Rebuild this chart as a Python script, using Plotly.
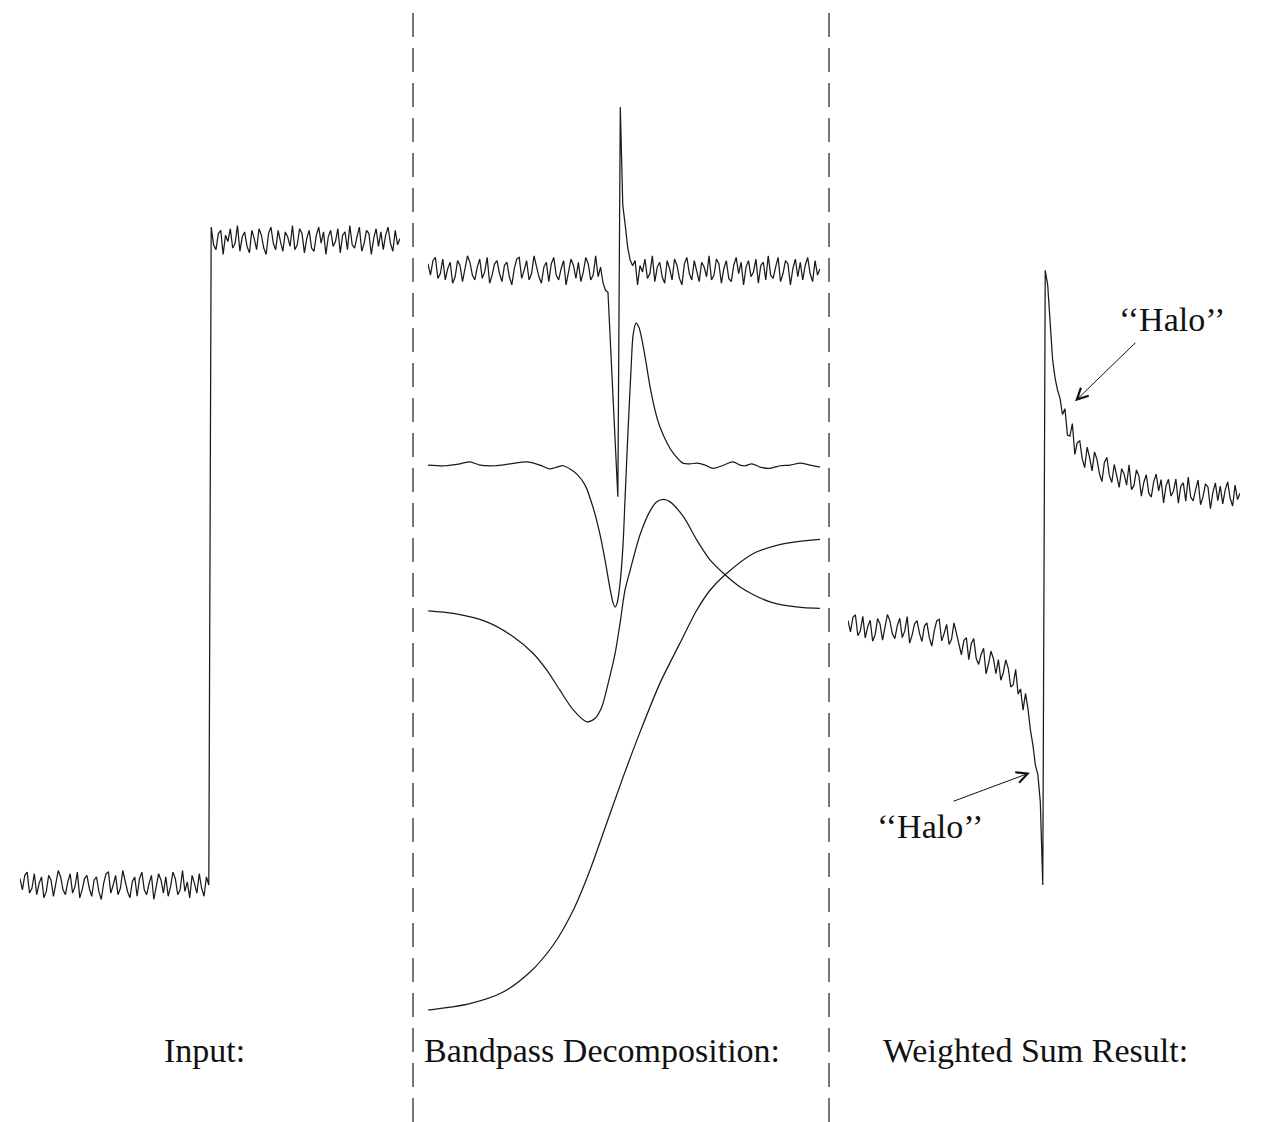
import plotly.graph_objects as go

W, H = 1267, 1122

# ---------------- data ----------------
# shared high-frequency noise, in noise steps
noise = [
    4, -3, 6, 8, -5, -2, 7, -6, 1, 5,
    -8, -4, 6, 3, -7, 2, 9, 5, -3, -6,
    2, 7, -5, -1, 8, -8, -3, 4, 6, -2,
    -7, 3, 5, -4, -9, 1, 7, 8, -5, 0,
    6, -6, -2, 9, 3, -4, -8, 2, 5, -7,
    4, 8, -3, -6, 1, 6, -9, -2, 7, 3,
    -5, 5, -7, -1, 8, 4, -6, -3, 9, -4,
    2, -8, 6, 1, -5, 7, -2, -7, 5, 0,
    8, -3, -6, 4, 6, -9, 3, -1, 7, -5,
    -2, 9, -7, 2, 5, -4, -8, 6, 1, -6,
    7, 3, -5, -9, 4, 8, -2, -6, 6, -1,
    -7, 5, 2, -4, 9, -6, -3, 7, 4, -8,
    1, 6, -5, -7, 3, 8, -2, 5, -9, 2,
    6, -4, -1, 7, -8, 3, 5, -6, 9, -3,
    -5, 2, 8, -7, -2, 6, 4, -9, 1, 7,
    -4, 5, -6, 3, 8, -2, -7, 6, -3, 1,
]
noise_scale = 0.0025

# input step
input_low = 0.0
input_high = 1.0
input_step_index = 80

# band 1 (finest): noisy baseline plus the edge response
band1_base = 0.953
band1_feature_idx = [72, 73, 74, 75, 76, 77, 78, 79, 80, 81, 82, 83]
band1_feature_val = [0.922, 0.919, 0.836, 0.749, 0.665, 0.602,
                     1.206, 1.054, 1.023, 0.988, 0.969, 0.960]

# band 2
band2_x = [0, 6.9, 13.0, 17.0, 21.1, 27.2, 33.3, 40.2, 45.4, 49.5, 52.3, 54.8,
           57.6, 60.4, 63.7, 66.9, 69.8, 71.8, 73.8, 75.1, 75.9, 76.7, 77.9,
           79.1, 79.9, 81.1, 82.4, 83.2, 84.4, 85.6, 86.8, 88.4, 90.1, 92.1,
           94.1, 97.0, 99.4, 103.4, 106.3, 109.1, 112.4, 115.6, 119.3, 123.7,
           126.6, 128.6, 131.4, 134.7, 138.7, 142.8, 146.9, 150.9, 155.0, 159.0]
band2_y = [0.651, 0.650, 0.653, 0.656, 0.651, 0.650, 0.653, 0.656, 0.651, 0.645,
           0.648, 0.650, 0.645, 0.637, 0.620, 0.586, 0.543, 0.504, 0.460, 0.437,
           0.431, 0.437, 0.468, 0.527, 0.597, 0.701, 0.803, 0.853, 0.871, 0.864,
           0.845, 0.811, 0.772, 0.736, 0.710, 0.685, 0.670, 0.654, 0.653, 0.654,
           0.651, 0.646, 0.650, 0.656, 0.651, 0.650, 0.653, 0.648, 0.646, 0.650,
           0.651, 0.654, 0.651, 0.648]

# band 3
band3_x = [0.1, 10.3, 23.8, 34.6, 42.7, 48.2, 53.5, 59.0, 64.4, 67.7, 70.5, 73.1,
           75.9, 77.9, 79.9, 82.0, 86.0, 90.1, 92.8, 95.5, 98.2, 103.6, 109.0,
           114.4, 120.5, 126.6, 132.0, 138.7, 145.5, 152.3, 159.0]
band3_y = [0.425, 0.421, 0.408, 0.385, 0.359, 0.333, 0.302, 0.271, 0.253, 0.258,
           0.276, 0.313, 0.359, 0.406, 0.457, 0.488, 0.543, 0.580, 0.594, 0.598,
           0.594, 0.571, 0.535, 0.504, 0.481, 0.462, 0.450, 0.439, 0.433, 0.430,
           0.429]

# band 4 (lowpass residual)
band4_x = [0.1, 17.0, 30.5, 41.4, 50.8, 58.9, 65.7, 72.5, 79.2, 86.0, 94.1,
           102.2, 109.0, 114.4, 120.5, 132.0, 145.5, 159.0]
band4_y = [-0.194, -0.184, -0.166, -0.135, -0.093, -0.039, 0.023, 0.096, 0.168,
           0.237, 0.313, 0.375, 0.426, 0.457, 0.481, 0.514, 0.530, 0.536]

# weighted-sum result: smooth trend (noise added on top except near the edge)
result_trend = [
    0.400, 0.400, 0.400, 0.399, 0.399, 0.399, 0.399, 0.398, 0.398, 0.398,
    0.398, 0.398, 0.398, 0.397, 0.397, 0.397, 0.397, 0.397, 0.397, 0.397,
    0.397, 0.396, 0.396, 0.396, 0.396, 0.395, 0.395, 0.395, 0.395, 0.395,
    0.395, 0.394, 0.394, 0.393, 0.393, 0.392, 0.392, 0.392, 0.391, 0.390,
    0.389, 0.388, 0.386, 0.384, 0.382, 0.380, 0.377, 0.374, 0.371, 0.367,
    0.364, 0.362, 0.359, 0.357, 0.355, 0.352, 0.350, 0.348, 0.345, 0.343,
    0.340, 0.337, 0.335, 0.332, 0.329, 0.326, 0.322, 0.318, 0.312, 0.306,
    0.299, 0.291, 0.282, 0.271, 0.240, 0.217, 0.186, 0.171, 0.129, 0.000,
    0.953, 0.930, 0.873, 0.814, 0.786, 0.767, 0.747, 0.732, 0.721, 0.710,
    0.701, 0.693, 0.685, 0.681, 0.676, 0.671, 0.667, 0.664, 0.660, 0.657,
    0.654, 0.652, 0.650, 0.648, 0.645, 0.643, 0.640, 0.639, 0.637, 0.636,
    0.634, 0.633, 0.632, 0.630, 0.629, 0.628, 0.627, 0.626, 0.624, 0.623,
    0.622, 0.621, 0.620, 0.619, 0.618, 0.617, 0.616, 0.616, 0.615, 0.614,
    0.614, 0.613, 0.613, 0.612, 0.612, 0.611, 0.611, 0.610, 0.610, 0.609,
    0.608, 0.608, 0.608, 0.607, 0.607, 0.607, 0.607, 0.606, 0.606, 0.606,
    0.606, 0.606, 0.606, 0.605, 0.605, 0.605, 0.605, 0.605, 0.605, 0.605,
]
result_clean_idx = list(range(74, 86))

panel_labels = ["Input:", "Bandpass Decomposition:", "Weighted Sum Result:"]
halo_text = "\u2018\u2018Halo\u2019\u2019"

# ---------------- build series ----------------
n = len(noise)
idx = list(range(n))
input_y = [(input_low if i < input_step_index else input_high) + noise[i] * noise_scale
           for i in idx]
band1_y = [band1_base + noise[i] * noise_scale for i in idx]
for i, v in zip(band1_feature_idx, band1_feature_val):
    band1_y[i] = v
result_y = [result_trend[i] + (0 if i in result_clean_idx else noise[i] * noise_scale)
            for i in idx]

LINE = dict(color="#1a1a1a", width=1.25)
fig = go.Figure()
fig.add_trace(go.Scatter(x=idx, y=input_y, mode="lines", line=LINE, xaxis="x", yaxis="y"))
fig.add_trace(go.Scatter(x=idx, y=band1_y, mode="lines", line=LINE, xaxis="x2", yaxis="y"))
for bx, by in [(band2_x, band2_y), (band3_x, band3_y), (band4_x, band4_y)]:
    fig.add_trace(go.Scatter(x=bx, y=by, mode="lines",
                             line=dict(color="#1a1a1a", width=1.25, shape="spline", smoothing=0.8),
                             xaxis="x2", yaxis="y"))
fig.add_trace(go.Scatter(x=idx, y=result_y, mode="lines", line=LINE, xaxis="x3", yaxis="y"))

hidden = dict(visible=False, showgrid=False, zeroline=False, fixedrange=True)
fig.update_layout(
    width=W, height=H, autosize=False,
    margin=dict(l=0, r=0, t=0, b=0, pad=0),
    paper_bgcolor="white", plot_bgcolor="white",
    showlegend=False, hovermode=False,
    xaxis=dict(domain=[20 / W, 400 / W], range=[0, n - 1], anchor="y", **hidden),
    xaxis2=dict(domain=[428 / W, 820 / W], range=[0, n - 1], anchor="y", **hidden),
    xaxis3=dict(domain=[848 / W, 1240 / W], range=[0, n - 1], anchor="y", **hidden),
    yaxis=dict(domain=[0, 1], range=[(885 - H) / 645, 885 / 645], **hidden),
)

# dashed panel separators
for xp in [413 / W, 829 / W]:
    fig.add_shape(type="line", xref="paper", yref="paper", x0=xp, x1=xp,
                  y0=(H - 13) / H, y1=0,
                  line=dict(color="#4a4a4a", width=1.5, dash="24px,11px"))

FONT = dict(family="Liberation Serif, Times New Roman, serif", size=34, color="#111")
for label, xr, xc in zip(panel_labels, ["x", "x2", "x3"], [77.4, 70.6, 75.9]):
    fig.add_annotation(text=label, x=xc, y=-0.256, xref=xr, yref="y",
                       showarrow=False, font=FONT)

# halo labels with arrows
fig.add_annotation(text=halo_text, x=131.4, y=0.876, xref="x3", yref="y",
                   showarrow=False, font=FONT)
fig.add_annotation(text="", x=92.1, y=0.750, ax=117.2, ay=0.843,
                   xref="x3", yref="y", axref="x3", ayref="y",
                   showarrow=True, arrowhead=5, arrowsize=2.2, arrowwidth=1,
                   arrowcolor="#111")
fig.add_annotation(text=halo_text, x=33.3, y=0.091, xref="x3", yref="y",
                   showarrow=False, font=FONT)
fig.add_annotation(text="", x=73.8, y=0.174, ax=42.2, ay=0.129,
                   xref="x3", yref="y", axref="x3", ayref="y",
                   showarrow=True, arrowhead=5, arrowsize=2.2, arrowwidth=1,
                   arrowcolor="#111")

fig.write_html("out.html", config={"displayModeBar": False, "staticPlot": True},
               post_script="document.body.style.margin='0px';document.body.style.overflow='hidden';")
